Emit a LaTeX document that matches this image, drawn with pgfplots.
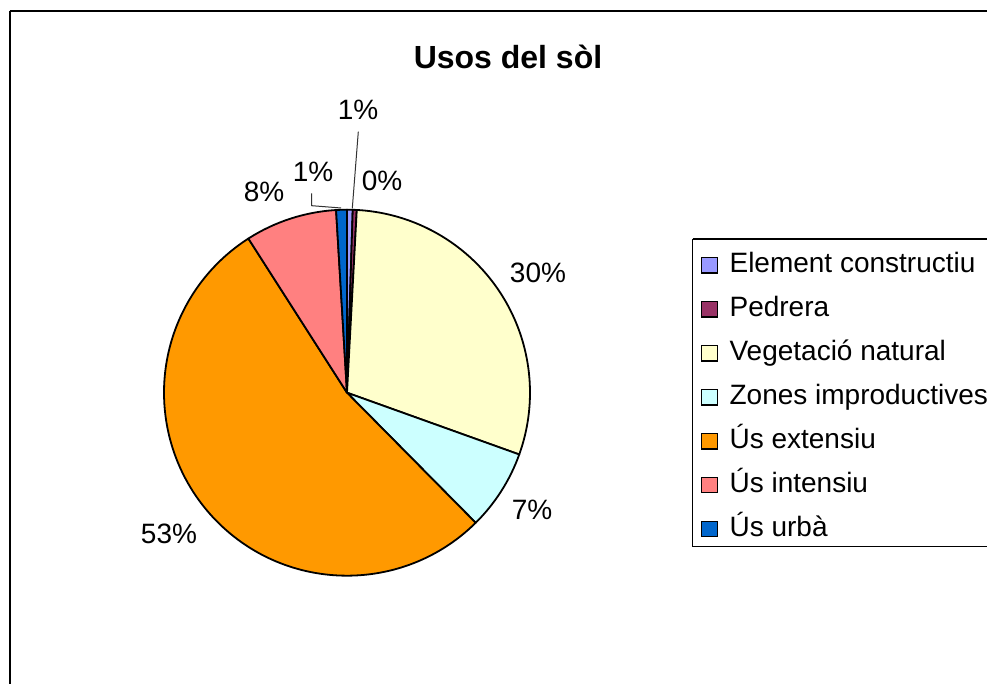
\documentclass[border=0pt]{standalone}
\usepackage{pgfplots}
\pgfplotsset{compat=1.18}
\usepackage{pgfplotstable}
\usepackage{fontspec}
\setmainfont{Liberation Sans}

\definecolor{cElem}{HTML}{9999FF}
\definecolor{cPedr}{HTML}{993366}
\definecolor{cVeg}{HTML}{FFFFCC}
\definecolor{cZon}{HTML}{CCFFFF}
\definecolor{cExt}{HTML}{FF9900}
\definecolor{cInt}{HTML}{FF8080}
\definecolor{cUrb}{HTML}{0066CC}

% share of each land use, in %, clockwise from 12 o'clock
\pgfplotstableread{
value col
0.50  cElem
0.35  cPedr
29.60 cVeg
7.10  cZon
53.30 cExt
8.10  cInt
0.95  cUrb
}\piedata

\begin{document}
\begin{tikzpicture}
\begin{axis}[
  name=ax,
  x=0.5pt, y=0.5pt,
  xmin=0, xmax=987, ymin=0, ymax=684,
  hide axis, clip=true,
  legend image code/.code={\draw[#1, line width=0.6pt] (0pt,-3.9pt) rectangle (7.8pt,3.9pt);},
  legend style={
    draw=none, fill=none, inner sep=0pt,
    at={(0.710,0.632)}, anchor=north west,
    font=\fontsize{14}{16}\selectfont,
    nodes={inner sep=0pt, text height=10pt, text depth=3pt},
    row sep=9.0pt,
    /tikz/every odd column/.append style={column sep=5.8pt},
  },
  legend cell align=left,
]
% frame of the chart area
\draw[line width=1pt] (axis cs:9.5,672.5) -- (axis cs:1100,672.5);
\draw[line width=1pt] (axis cs:9.5,672.5) -- (axis cs:9.5,-50);

% wedges
\def\pietotal{0}
\pgfplotsforeachungrouped \i in {0,...,6}{%
  \pgfplotstablegetelem{\i}{value}\of\piedata
  \pgfmathsetmacro\pietotal{\pietotal+\pgfplotsretval}%
}
\def\cum{0}
\pgfplotsforeachungrouped \i in {0,...,6}{%
  \pgfplotstablegetelem{\i}{value}\of\piedata \let\v\pgfplotsretval
  \pgfplotstablegetelem{\i}{col}\of\piedata \let\c\pgfplotsretval
  \pgfmathsetmacro\a{90-360*(\cum/\pietotal)}%
  \pgfmathsetmacro\cum{\cum+\v}%
  \pgfmathsetmacro\b{90-360*(\cum/\pietotal)}%
  \edef\tmp{\noexpand\filldraw[fill=\c, draw=black, line width=0.9pt, line join=round]
    (axis cs:347,291.3) -- ++(\a:91.5pt) arc[start angle=\a, end angle=\b, radius=91.5pt] -- cycle;}%
  \tmp
}

% leader lines
\draw[line width=0.5pt, black!80] (axis cs:358.3,552.3) -- (axis cs:352.3,475.7);
\draw[line width=0.5pt, black!80] (axis cs:311.7,490.7) -- (axis cs:311.7,478.3) -- (axis cs:341,476);

% data labels
\begin{scope}[font=\fontsize{14}{16}\selectfont]
\node at (axis cs:358,574) {1\%};
\node at (axis cs:382,503) {0\%};
\node at (axis cs:538,411) {30\%};
\node at (axis cs:532,174.5) {7\%};
\node at (axis cs:169,150) {53\%};
\node at (axis cs:264,492) {8\%};
\node at (axis cs:313,512) {1\%};
\end{scope}

% title
\node[font=\bfseries\fontsize{16}{19}\selectfont] at (axis cs:508,627) {Usos del sòl};

% legend frame
\draw[line width=0.6pt] (axis cs:692.7,445) -- (axis cs:692.7,137.3) -- (axis cs:1100,137.3);
\draw[line width=0.6pt] (axis cs:692.7,445) -- (axis cs:1100,445);

\addlegendimage{fill=cElem, draw=black}\addlegendentry{Element constructiu}
\addlegendimage{fill=cPedr, draw=black}\addlegendentry{Pedrera}
\addlegendimage{fill=cVeg, draw=black}\addlegendentry{Vegetació natural}
\addlegendimage{fill=cZon, draw=black}\addlegendentry{Zones improductives}
\addlegendimage{fill=cExt, draw=black}\addlegendentry{Ús extensiu}
\addlegendimage{fill=cInt, draw=black}\addlegendentry{Ús intensiu}
\addlegendimage{fill=cUrb, draw=black}\addlegendentry{Ús urbà}
\end{axis}
\pgfresetboundingbox
\path[use as bounding box] (ax.south west) rectangle (ax.north east);
\end{tikzpicture}
\end{document}
